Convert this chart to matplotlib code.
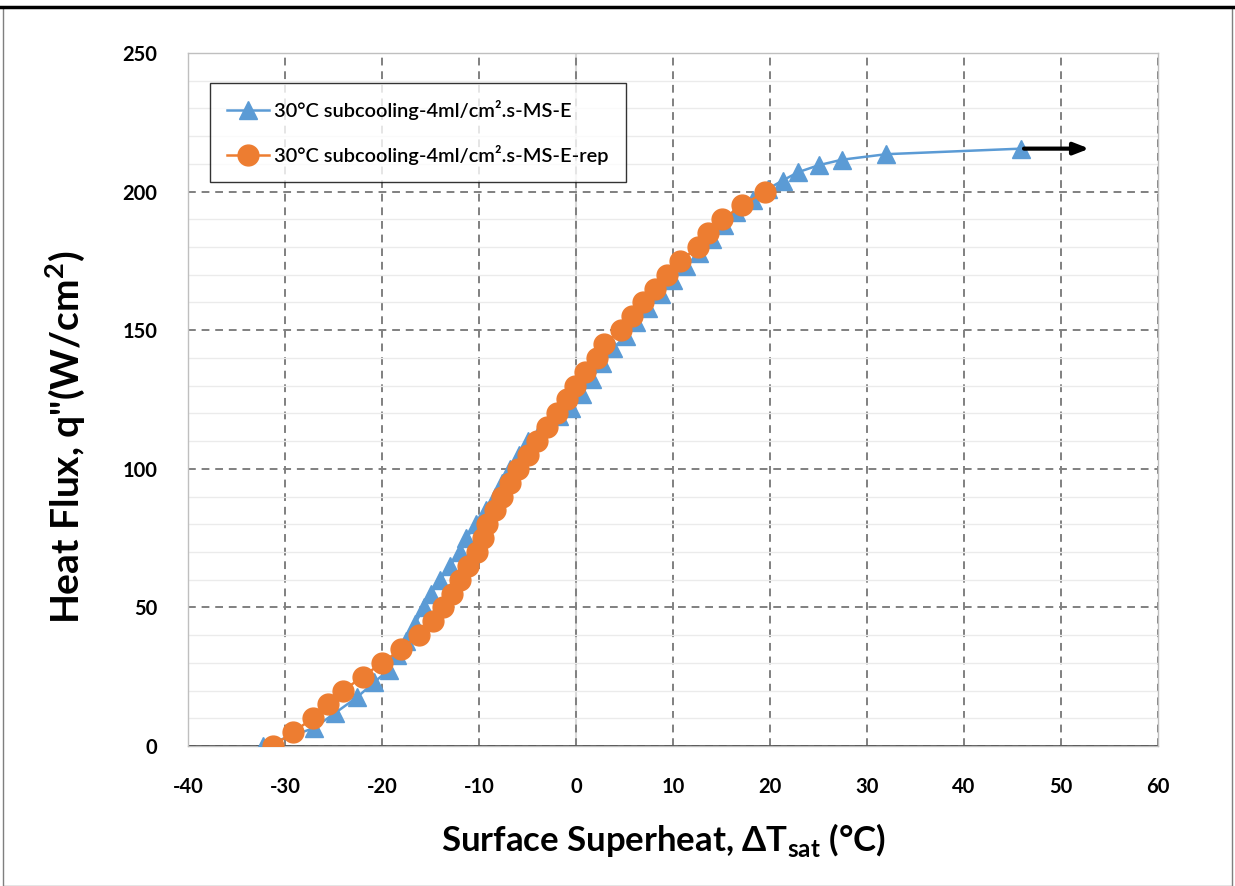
import matplotlib.pyplot as plt
from matplotlib.patches import Rectangle

plt.rcParams["font.family"] = ["Lato", "DejaVu Sans"]
plt.rcParams["axes.unicode_minus"] = False
plt.rcParams["mathtext.fontset"] = "custom"
plt.rcParams["mathtext.rm"] = "Lato:bold"
plt.rcParams["mathtext.bf"] = "Lato:bold"

BLUE = "#5B9BD5"
ORANGE = "#ED7D31"

# ---- data ----
blue_x = [-32.3, -27.0, -24.8, -22.6, -20.8, -19.3, -18.5, -17.5, -16.6, -15.7,
          -15.0, -14.0, -13.0, -12.0, -11.3, -10.3, -9.3, -8.4, -7.6, -6.8,
          -5.9, -4.9, -3.5, -1.8, -0.5, 0.6, 1.6, 2.7, 3.8, 5.2,
          6.2, 7.4, 8.8, 10.0, 11.3, 12.7, 14.0, 15.3, 16.5, 18.2,
          19.8, 21.3, 22.9, 25.0, 27.4, 32.0, 45.9]
blue_y = [0, 6.5, 12, 17.5, 23, 27.5, 33, 38, 44, 50,
          55, 60, 65, 70, 75, 80, 85, 90, 95, 100,
          105, 110, 115, 119, 122, 127, 132.5, 138, 143.5, 148,
          153, 158, 163, 168, 173, 178, 183, 188, 192.5, 197,
          201, 204, 207, 209.5, 211.5, 213.5, 215.5]

orange_y = list(range(0, 205, 5))
orange_x = [-31.2, -29.2, -27.1, -25.6, -24.0, -22.0, -20.0, -18.0, -16.2, -14.7,
            -13.7, -12.8, -12.0, -11.1, -10.2, -9.6, -9.2, -8.4, -7.6, -6.8,
            -6.0, -5.0, -4.0, -3.0, -2.0, -0.9, -0.1, 0.9, 2.2, 2.9,
            4.6, 5.8, 6.9, 8.1, 9.4, 10.7, 12.6, 13.6, 15.1, 17.1, 19.5]

arrow_x = [45.9, 53.2]
arrow_y = 215.5

x_ticks = list(range(-40, 61, 10))
y_ticks = list(range(0, 251, 50))

fig = plt.figure(figsize=(12.35, 8.86), dpi=100)
ax = fig.add_axes([188 / 1235, 140 / 886, 970 / 1235, 693 / 886])

# grid
ax.set_yticks(range(0, 251, 10), minor=True)
ax.grid(which="minor", axis="y", color="#EBEBEB", lw=1.0, zorder=0)
ax.grid(which="major", color="#808080", lw=1.4, ls=(0, (4, 3)), zorder=1)
ax.axvline(0, color="#D9D9D9", lw=1.5, zorder=1)
ax.axhline(0, color="#404040", lw=1.3, zorder=2)

ax.plot(blue_x, blue_y, "-^", color=BLUE, ms=13.5, lw=1.8, zorder=3,
        label="30°C subcooling-4ml/cm².s-MS-E")
ax.plot(orange_x, orange_y, "-o", color=ORANGE, ms=15, lw=1.8, zorder=4,
        label="30°C subcooling-4ml/cm².s-MS-E-rep")

ax.annotate("", xy=(arrow_x[1], arrow_y), xytext=(arrow_x[0], arrow_y),
            arrowprops=dict(arrowstyle="-|>,head_length=0.9,head_width=0.35",
                            color="black", lw=3), zorder=5)

ax.set_xlim(-40, 60)
ax.set_ylim(0, 250)
ax.set_xticks(x_ticks, labels=[str(v) for v in x_ticks],
              fontweight="bold", fontsize=14.5)
ax.set_yticks(y_ticks, labels=[str(v) for v in y_ticks],
              fontweight="bold", fontsize=14.5)
ax.tick_params(which="both", length=0)
ax.tick_params(axis="x", pad=22)
ax.tick_params(axis="y", pad=22)

for s in ax.spines.values():
    s.set_color("#BFBFBF")
    s.set_linewidth(1.0)

ax.set_xlabel(r"Surface Superheat, ΔT$_{\rm sat}$ (°C)", fontsize=25,
              fontweight="bold")
ax.xaxis.set_label_coords(0.49, -0.108)
ax.set_ylabel(r'Heat Flux, q"(W/cm$^{\rm 2}$)', fontsize=28,
              fontweight="bold")
ax.yaxis.set_label_coords(-0.104, 0.446)

leg = ax.legend(loc="upper left", bbox_to_anchor=(0.0227, 0.957),
                prop=dict(size=14.4, weight="semibold"),
                frameon=True, fancybox=False, edgecolor="black",
                handlelength=2.1, handletextpad=0.25, borderpad=0.85,
                labelspacing=1.25, borderaxespad=0)
leg.get_frame().set_linewidth(1.0)

# outer frame of the picture
fig.add_artist(Rectangle((3 / 1235, 0), 1229 / 1235, 879 / 886,
                         transform=fig.transFigure, fill=False,
                         edgecolor="#7F7F7F", lw=1.0))
fig.add_artist(plt.Line2D([0, 1], [879 / 886, 879 / 886],
                          transform=fig.transFigure, color="black", lw=2.5))

fig.savefig("out.png", dpi=100)
